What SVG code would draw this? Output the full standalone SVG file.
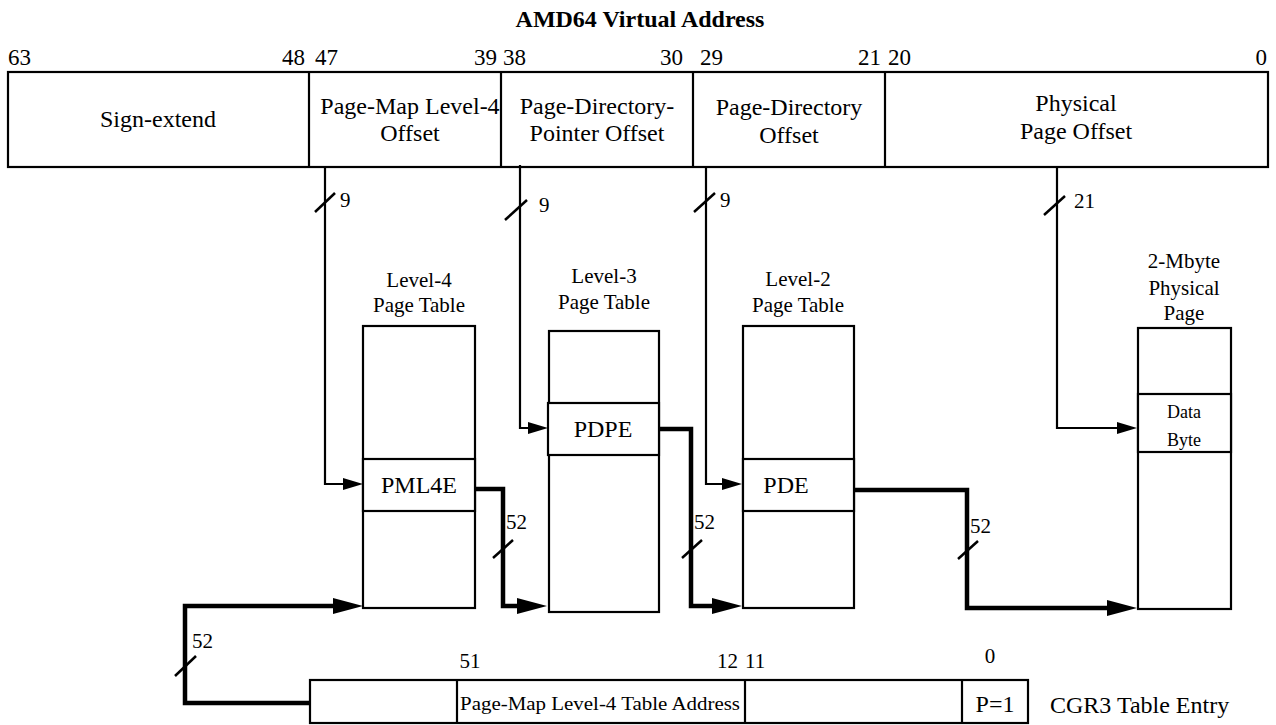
<svg xmlns="http://www.w3.org/2000/svg" width="1276" height="725" viewBox="0 0 1276 725">
<style>
text{font-family:"Liberation Serif","Times New Roman",serif;fill:#000}
.t{font-size:24px}
.n{font-size:23px}
.s{font-size:21px}
.en{font-size:24px}
.c{text-anchor:middle}
.e{text-anchor:end}
.box{fill:#fff;stroke:#000;stroke-width:2.2}
.thin{fill:none;stroke:#000;stroke-width:2.2}
.thick{fill:none;stroke:#000;stroke-width:4.5}
.sl{stroke:#000;stroke-width:2.5}
</style>
<defs>
<marker id="ah" markerUnits="userSpaceOnUse" markerWidth="20" markerHeight="12" refX="1" refY="6" orient="auto"><path d="M0,0 L20,6 L0,12 z"/></marker>
<marker id="ahb" markerUnits="userSpaceOnUse" markerWidth="30" markerHeight="16" refX="1" refY="8" orient="auto"><path d="M0,0 L30,8 L0,16 z"/></marker>
</defs>
<rect width="1276" height="725" fill="#fff"/>
<text x="640" y="27" class="c" style="font-weight:bold;font-size:24px">AMD64 Virtual Address</text>
<g id="bits" class="n">
<text x="8" y="65">63</text>
<text x="305" y="65" class="e">48</text>
<text x="315" y="65">47</text>
<text x="497" y="65" class="e">39</text>
<text x="503" y="65">38</text>
<text x="683" y="65" class="e">30</text>
<text x="700" y="65">29</text>
<text x="881" y="65" class="e">21</text>
<text x="888" y="65">20</text>
<text x="1267" y="65" class="e">0</text>
</g>
<g id="vaddr" class="t">
<rect x="8" y="72" width="1260" height="95" class="box"/>
<line x1="309" y1="72" x2="309" y2="167" class="thin"/>
<line x1="501" y1="72" x2="501" y2="167" class="thin"/>
<line x1="693" y1="72" x2="693" y2="167" class="thin"/>
<line x1="885" y1="72" x2="885" y2="167" class="thin"/>
<text x="158" y="127" class="c">Sign-extend</text>
<text x="410" y="114" class="c">Page-Map Level-4</text>
<text x="410" y="141" class="c">Offset</text>
<text x="597" y="114" class="c">Page-Directory-</text>
<text x="597" y="141" class="c">Pointer Offset</text>
<text x="789" y="115" class="c">Page-Directory</text>
<text x="789" y="143" class="c">Offset</text>
<text x="1076" y="111" class="c">Physical</text>
<text x="1076" y="139" class="c">Page Offset</text>
</g>
<g id="l4" class="s">
<text x="419" y="287" class="c">Level-4</text>
<text x="419" y="312" class="c">Page Table</text>
<rect x="363" y="326" width="112" height="282" class="box"/>
<rect x="363" y="459" width="112" height="52" class="box"/>
<text x="419" y="493" class="c en">PML4E</text>
</g>
<g id="l3" class="s">
<text x="604" y="283" class="c">Level-3</text>
<text x="604" y="309" class="c">Page Table</text>
<rect x="549" y="331" width="110" height="281" class="box"/>
<rect x="548" y="403" width="111" height="52" class="box"/>
<text x="603" y="437" class="c en">PDPE</text>
</g>
<g id="l2" class="s">
<text x="798" y="286" class="c">Level-2</text>
<text x="798" y="312" class="c">Page Table</text>
<rect x="743" y="326" width="111" height="282" class="box"/>
<rect x="743" y="459" width="111" height="52" class="box"/>
<text x="786" y="493" class="c en">PDE</text>
</g>
<g id="page" class="s">
<text x="1184" y="268" class="c">2-Mbyte</text>
<text x="1184" y="295" class="c">Physical</text>
<text x="1184" y="320" class="c">Page</text>
<rect x="1138" y="328" width="93" height="281" class="box"/>
<rect x="1138" y="394" width="93" height="58" class="box"/>
<text x="1184" y="418" class="c" style="font-size:18px">Data</text>
<text x="1184" y="446" class="c" style="font-size:18px">Byte</text>
</g>
<g id="cr3">
<text x="470" y="668" class="s c">51</text>
<text x="738" y="668" class="s e">12</text>
<text x="745" y="668" class="s">11</text>
<text x="990" y="663" class="s c">0</text>
<rect x="310" y="680" width="718" height="43" class="box"/>
<line x1="457" y1="680" x2="457" y2="723" class="thin"/>
<line x1="745" y1="680" x2="745" y2="723" class="thin"/>
<line x1="962" y1="680" x2="962" y2="723" class="thin"/>
<text x="460" y="710" style="font-size:19px" textLength="280" lengthAdjust="spacingAndGlyphs">Page-Map Level-4 Table Address</text>
<text x="995" y="712" class="t c">P=1</text>
<text x="1050" y="713" style="font-size:24px">CGR3 Table Entry</text>
</g>
<g id="connectors">
<path d="M325,167 V484 H344" class="thin" marker-end="url(#ah)"/>
<path d="M520,165 V428 H529" class="thin" marker-end="url(#ah)"/>
<path d="M706,167 V484 H723" class="thin" marker-end="url(#ah)"/>
<path d="M1057,167 V428 H1118" class="thin" marker-end="url(#ah)"/>
<path d="M475,489 H503 V606 H518" class="thick" marker-end="url(#ahb)"/>
<path d="M659,429 H691 V606 H713" class="thick" marker-end="url(#ahb)"/>
<path d="M854,490 H967 V608 H1108" class="thick" marker-end="url(#ahb)"/>
<path d="M310,703 H185 V606 H334" class="thick" marker-end="url(#ahb)"/>
<line x1="315" y1="212" x2="335" y2="193" class="sl"/>
<line x1="505" y1="220" x2="527" y2="200" class="sl"/>
<line x1="694" y1="212" x2="715" y2="193" class="sl"/>
<line x1="1044" y1="215" x2="1065" y2="196" class="sl"/>
<line x1="493" y1="558" x2="513" y2="540" class="sl"/>
<line x1="682" y1="558" x2="702" y2="540" class="sl"/>
<line x1="958" y1="559" x2="978" y2="541" class="sl"/>
<line x1="175" y1="676" x2="196" y2="656" class="sl"/>
<g class="s">
<text x="340" y="207">9</text>
<text x="539" y="212">9</text>
<text x="720" y="207">9</text>
<text x="1074" y="208">21</text>
<text x="506" y="529">52</text>
<text x="694" y="529">52</text>
<text x="970" y="533">52</text>
<text x="192" y="648">52</text>
</g>
</g>
</svg>
